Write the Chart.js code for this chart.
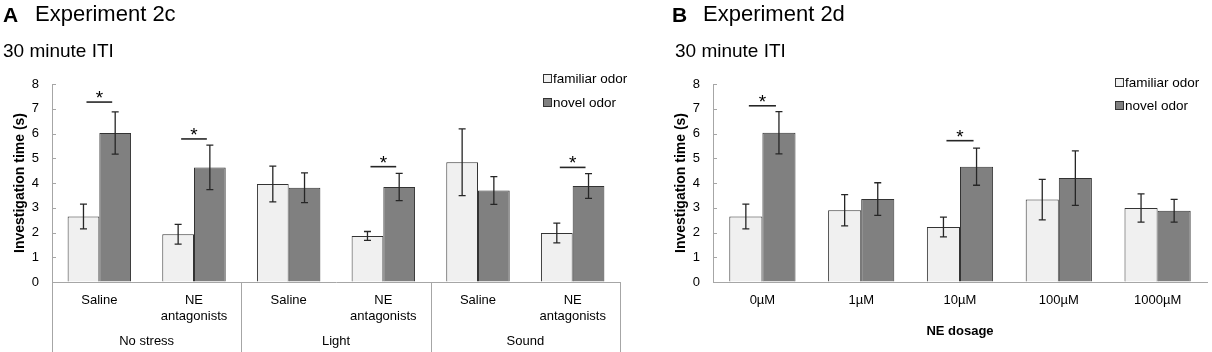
<!DOCTYPE html>
<html>
<head>
<meta charset="utf-8">
<script src="https://cdn.jsdelivr.net/npm/chart.js@4.4.1/dist/chart.umd.min.js"></script>
<style>
body { margin: 0; background: #fff; font-family: 'Liberation Sans', Arial, sans-serif; }
#wrap { position: relative; width: 1212px; height: 352px; overflow: hidden; }
.t { position: absolute; white-space: nowrap; color: #000; line-height: 1; }
.big { font-size: 22px; top: 3px; }
.tag { font-size: 21px; top: 4px; font-weight: bold; }
.sub { font-size: 19px; top: 41px; }
.lg { position: absolute; font-size: 13.5px; line-height: 1; white-space: nowrap; }
.lg span.box { display: inline-block; width: 7px; height: 7px; border: 1px solid #333; margin-right: 1px; vertical-align: 0px; }
canvas { position: absolute; top: 0; }
</style>
</head>
<body>
<div id="wrap">
  <canvas id="chartA" width="630" height="352" style="left:0"></canvas>
  <canvas id="chartB" width="552" height="352" style="left:660px"></canvas>

  <div class="t tag" style="left:3px">A</div>
  <div class="t big" style="left:35px">Experiment 2c</div>
  <div class="t sub" style="left:3px">30 minute ITI</div>
  <div class="t tag" style="left:672px">B</div>
  <div class="t big" style="left:703px">Experiment 2d</div>
  <div class="t sub" style="left:675px">30 minute ITI</div>

  <div class="lg" style="left:543px;top:72px"><span class="box" style="background:#f0f0f0"></span>familiar odor</div>
  <div class="lg" style="left:543px;top:96px"><span class="box" style="background:#808080"></span>novel odor</div>
  <div class="lg" style="left:1115px;top:76px"><span class="box" style="background:#f0f0f0"></span>familiar odor</div>
  <div class="lg" style="left:1115px;top:99px"><span class="box" style="background:#808080"></span>novel odor</div>
</div>
<script>
// panel A: experiment 2c
const stressGroups = ['No stress', 'Light', 'Sound'];
const treatLabels = ['Saline', ['NE', 'antagonists'], 'Saline', ['NE', 'antagonists'], 'Saline', ['NE', 'antagonists']];
const familiarA = [2.65, 1.93, 3.96, 1.86, 4.84, 1.98];
const familiarErrA = [0.5, 0.4, 0.72, 0.18, 1.35, 0.4];
const novelA = [6.02, 4.63, 3.81, 3.84, 3.70, 3.88];
const novelErrA = [0.85, 0.9, 0.6, 0.55, 0.56, 0.5];
const sigA = [7.27, 5.78, null, 4.66, null, 4.63];

// panel B: experiment 2d
const doseLabels = ['0µM', '1µM', '10µM', '100µM', '1000µM'];
const familiarB = [2.65, 2.9, 2.22, 3.33, 2.99];
const familiarErrB = [0.5, 0.63, 0.4, 0.82, 0.57];
const novelB = [6.03, 3.35, 4.66, 4.2, 2.88];
const novelErrB = [0.85, 0.66, 0.75, 1.1, 0.46];
const sigB = [7.12, null, 5.71, null, null];

const yMin = 0, yMax = 8, yStep = 1;

const FONT = "'Liberation Sans', Arial, sans-serif";
const AXIS_GREY = '#a6a6a6';
const INK = '#262626';

// error bars, significance marks, inner y ticks and group separators
function extras(errs, sig, groupSize) {
    return {
        id: 'extras',
        afterDatasetsDraw(chart) {
            const ctx = chart.ctx;
            const y = chart.scales.y;
            ctx.save();
            ctx.strokeStyle = INK;
            ctx.lineWidth = 1.3;
            errs.forEach((e, di) => {
                const meta = chart.getDatasetMeta(di);
                const vals = chart.data.datasets[di].data;
                meta.data.forEach((bar, i) => {
                    const top = y.getPixelForValue(vals[i] + e[i]);
                    const bot = y.getPixelForValue(vals[i] - e[i]);
                    ctx.beginPath();
                    ctx.moveTo(bar.x, top); ctx.lineTo(bar.x, bot);
                    ctx.moveTo(bar.x - 3.5, top); ctx.lineTo(bar.x + 3.5, top);
                    ctx.moveTo(bar.x - 3.5, bot); ctx.lineTo(bar.x + 3.5, bot);
                    ctx.stroke();
                });
            });
            ctx.lineWidth = 1.6;
            ctx.fillStyle = '#000';
            ctx.font = '19px ' + FONT;
            ctx.textAlign = 'center';
            ctx.textBaseline = 'alphabetic';
            sig.forEach((s, i) => {
                if (s == null) return;
                const x0 = chart.getDatasetMeta(0).data[i].x + 3;
                const x1 = chart.getDatasetMeta(1).data[i].x - 3;
                const py = y.getPixelForValue(s);
                ctx.beginPath();
                ctx.moveTo(x0, py); ctx.lineTo(x1, py);
                ctx.stroke();
                ctx.fillText('*', (x0 + x1) / 2, py + 2);
            });
            ctx.restore();
        },
        afterDraw(chart) {
            const ctx = chart.ctx;
            const x = chart.scales.x;
            const y = chart.scales.y;
            ctx.save();
            ctx.strokeStyle = AXIS_GREY;
            ctx.lineWidth = 1;
            // short tick marks pointing into the plot
            y.ticks.forEach(t => {
                const py = Math.round(y.getPixelForValue(t.value)) + 0.5;
                ctx.beginPath();
                ctx.moveTo(y.right, py); ctx.lineTo(y.right + 4, py);
                ctx.stroke();
            });
            if (groupSize) {
                const n = chart.data.labels.length;
                const cw = x.width / n;
                for (let k = 0; k <= n; k += groupSize) {
                    const px = Math.round(x.left + k * cw) + 0.5;
                    ctx.beginPath();
                    ctx.moveTo(px, chart.chartArea.bottom);
                    ctx.lineTo(px, chart.height);
                    ctx.stroke();
                }
            }
            ctx.restore();
        }
    };
}

function yScale() {
    return {
        min: yMin, max: yMax,
        afterFit: s => { s.width = 40; },
        ticks: { stepSize: yStep, color: '#000', font: { size: 13, family: FONT }, padding: 13 },
        grid: { drawOnChartArea: false, drawTicks: false, color: AXIS_GREY },
        border: { color: AXIS_GREY },
        title: { display: true, text: 'Investigation time (s)', color: '#000', font: { size: 14, weight: 'bold', family: FONT }, padding: { top: 0, bottom: 0 } }
    };
}

function datasets(fam, nov) {
    return [
        { label: 'familiar odor', data: fam, backgroundColor: '#f0f0f0', borderColor: '#333', borderWidth: 1, categoryPercentage: 0.67, barPercentage: 1 },
        { label: 'novel odor', data: nov, backgroundColor: '#808080', borderColor: '#333', borderWidth: 1, categoryPercentage: 0.67, barPercentage: 1 }
    ];
}

new Chart(document.getElementById('chartA'), {
    type: 'bar',
    data: { labels: treatLabels, datasets: datasets(familiarA, novelA) },
    options: {
        responsive: false,
        animation: false,
        layout: { padding: { top: 84, left: 12, right: 10, bottom: 0 } },
        plugins: { legend: { display: false }, tooltip: { enabled: false } },
        scales: {
            x: {
                afterFit: s => { s.height = 45; },
                ticks: { color: '#000', font: { size: 13, family: FONT }, padding: 11, maxRotation: 0, autoSkip: false },
                grid: { drawOnChartArea: false, drawTicks: false, color: AXIS_GREY },
                border: { color: AXIS_GREY }
            },
            x2: {
                type: 'category',
                position: 'bottom',
                labels: stressGroups,
                offset: true,
                afterFit: s => { s.height = 25; },
                ticks: { color: '#000', font: { size: 13, family: FONT }, padding: 7 },
                grid: { display: false, drawTicks: false },
                border: { display: false }
            },
            y: yScale()
        }
    },
    plugins: [extras([familiarErrA, novelErrA], sigA, 2)]
});

new Chart(document.getElementById('chartB'), {
    type: 'bar',
    data: { labels: doseLabels, datasets: datasets(familiarB, novelB) },
    options: {
        responsive: false,
        animation: false,
        layout: { padding: { top: 84, left: 13, right: 5, bottom: 0 } },
        plugins: { legend: { display: false }, tooltip: { enabled: false } },
        scales: {
            x: {
                afterFit: s => { s.height = 70; },
                ticks: { color: '#000', font: { size: 13, family: FONT }, padding: 11, maxRotation: 0 },
                grid: { drawOnChartArea: false, drawTicks: false, color: AXIS_GREY },
                border: { color: AXIS_GREY },
                title: { display: true, text: 'NE dosage', color: '#000', font: { size: 13, weight: 'bold', family: FONT }, padding: { top: 4, bottom: 13 } }
            },
            y: yScale()
        }
    },
    plugins: [extras([familiarErrB, novelErrB], sigB, 0)]
});
</script>
</body>
</html>
